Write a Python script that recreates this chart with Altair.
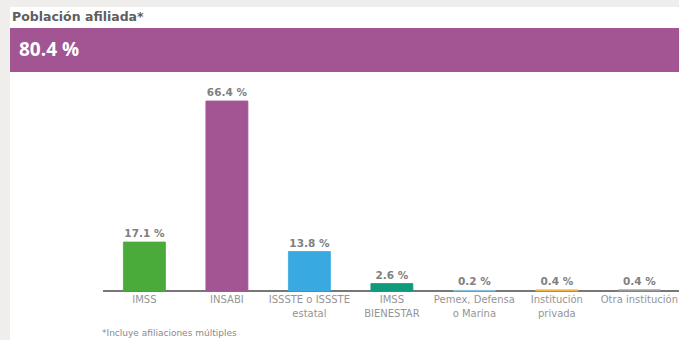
import altair as alt
import pandas as pd

TITLE = "Población afiliada*"
TOTAL = "80.4 %"
FOOTNOTE = "*Incluye afiliaciones múltiples"

categories = ["IMSS", "INSABI", "ISSSTE o ISSSTE\nestatal", "IMSS\nBIENESTAR",
              "Pemex, Defensa\no Marina", "Institución\nprivada", "Otra institución"]
values = [17.1, 66.4, 13.8, 2.6, 0.2, 0.4, 0.4]
labels = ["17.1 %", "66.4 %", "13.8 %", "2.6 %", "0.2 %", "0.4 %", "0.4 %"]
colors = ["#4aab3a", "#a25592", "#38a9e1", "#0f9a7b", "#8fc6e6", "#f4b548", "#9a9a9a"]

df = pd.DataFrame({
    "idx": list(range(len(categories))),
    "cat": categories,
    "val": values,
    "lab": labels,
    "col": colors,
    "zero": [0.0] * len(categories),
})

W, H = 679, 340
xs = alt.Scale(domain=[-1.69, 6.42], nice=False, zero=False)
ys = alt.Scale(domain=[-17.13, 101.7], nice=False, zero=False)

card = alt.Chart(pd.DataFrame({"c": ["white"]})).mark_rect().encode(
    x=alt.value(10), x2=alt.value(W), y=alt.value(7), y2=alt.value(H),
    color=alt.Color("c:N", scale=None))
band = alt.Chart(pd.DataFrame({"c": ["#a25592"]})).mark_rect().encode(
    x=alt.value(10), x2=alt.value(W), y=alt.value(28), y2=alt.value(72),
    color=alt.Color("c:N", scale=None))
title = alt.Chart(pd.DataFrame({"t": [TITLE]})).mark_text(
    align="left", baseline="middle", font="DejaVu Sans", fontWeight="bold",
    fontSize=12.5, color="#5e5e5e").encode(x=alt.value(12), y=alt.value(17), text="t:N")
total = alt.Chart(pd.DataFrame({"t": [TOTAL]})).mark_text(
    align="left", baseline="middle", font="Open Sans", fontWeight="bold",
    fontSize=19, color="white").encode(x=alt.value(19), y=alt.value(50), text="t:N")
foot = alt.Chart(pd.DataFrame({"t": [FOOTNOTE]})).mark_text(
    align="left", baseline="top", font="DejaVu Sans", fontSize=9,
    color="#8a8a8a").encode(x=alt.value(102), y=alt.value(329), text="t:N")

base = alt.Chart(df)
rule = base.mark_rule(color="#777777", strokeWidth=1.6).encode(
    y=alt.Y("zero:Q", scale=ys, axis=None), x=alt.value(103), x2=alt.value(W))
bars = base.mark_bar(size=42, strokeWidth=0.8).encode(
    x=alt.X("idx:Q", scale=xs, axis=None),
    y=alt.Y("val:Q", scale=ys, axis=None),
    y2=alt.Y2("zero:Q"),
    color=alt.Color("col:N", scale=None),
    stroke=alt.Stroke("col:N", scale=None),
)
vlabels = base.mark_text(baseline="bottom", dy=-3, font="DejaVu Sans",
                         fontWeight="bold", fontSize=10.5, color="#808080").encode(
    x=alt.X("idx:Q", scale=xs, axis=None), y=alt.Y("val:Q", scale=ys, axis=None),
    text="lab:N")
xlabels = base.mark_text(baseline="top", lineBreak="\n", lineHeight=14,
                         font="DejaVu Sans", fontSize=10, color="#959595").encode(
    x=alt.X("idx:Q", scale=xs, axis=None), y=alt.value(295), text="cat:N")

chart = alt.layer(card, band, title, total, rule, bars, vlabels, xlabels, foot).properties(
    width=W, height=H, autosize=alt.AutoSizeParams(type="none"), padding=0,
    background="#efeeec",
).configure_view(stroke=None)

chart.save("out.html", embed_options={"renderer": "svg", "actions": False})
